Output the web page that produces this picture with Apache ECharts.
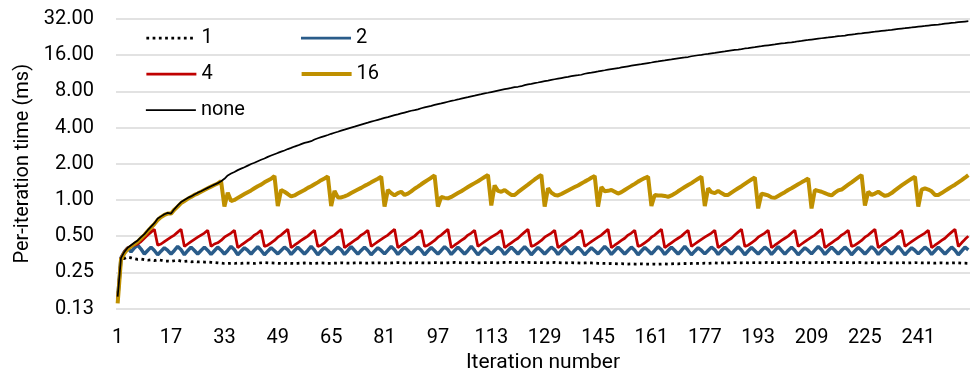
<!DOCTYPE html>
<html>
<head>
<meta charset="utf-8">
<script src="https://cdn.jsdelivr.net/npm/echarts@6/dist/echarts.min.js"></script>
<style>html,body{margin:0;padding:0;background:#fff}#c{width:973px;height:379px}</style>
</head>
<body>
<div id="c"></div>
<script>
// Iteration numbers (category labels 1..256)
const iterations = Array.from({length: 256}, (_, i) => String(i + 1));
const yTicks = [0.125, 0.25, 0.5, 1, 2, 4, 8, 16, 32];

const seriesNames = ['1', '2', '4', '16', 'none'];

const s1 = [
0.15,0.33,0.325,0.335,0.33,0.325,0.32,0.322,0.318,0.315,0.317,0.313,0.318,0.315,0.31,0.31,
0.308,0.312,0.315,0.31,0.308,0.31,0.306,0.308,0.305,0.306,0.304,0.305,0.303,0.302,0.30,0.298,
0.296,0.296,0.297,0.296,0.298,0.297,0.299,0.298,0.297,0.296,0.298,0.3,0.301,0.3,0.299,0.298,
0.297,0.296,0.297,0.298,0.297,0.296,0.297,0.298,0.299,0.298,0.297,0.297,0.298,0.299,0.298,0.297,
0.297,0.298,0.299,0.3,0.299,0.298,0.298,0.299,0.3,0.299,0.298,0.298,0.299,0.3,0.3,0.299,
0.298,0.298,0.299,0.3,0.301,0.3,0.299,0.298,0.299,0.3,0.301,0.3,0.299,0.299,0.3,0.301,
0.3,0.299,0.299,0.3,0.301,0.302,0.301,0.3,0.3,0.301,0.302,0.301,0.3,0.3,0.301,0.302,
0.301,0.3,0.3,0.301,0.302,0.303,0.302,0.301,0.301,0.302,0.303,0.302,0.301,0.301,0.302,0.301,
0.3,0.3,0.301,0.302,0.301,0.3,0.299,0.3,0.301,0.3,0.299,0.298,0.299,0.3,0.299,0.298,
0.297,0.297,0.296,0.295,0.296,0.295,0.294,0.295,0.294,0.293,0.294,0.293,0.293,0.294,0.293,0.293,
0.292,0.293,0.292,0.293,0.294,0.293,0.294,0.295,0.294,0.295,0.296,0.295,0.296,0.297,0.296,0.297,
0.298,0.297,0.298,0.299,0.298,0.299,0.3,0.299,0.3,0.301,0.3,0.3,0.301,0.3,0.3,0.301,
0.301,0.3,0.301,0.302,0.301,0.3,0.301,0.302,0.301,0.301,0.302,0.301,0.3,0.301,0.302,0.301,
0.3,0.301,0.302,0.301,0.301,0.302,0.303,0.302,0.301,0.301,0.302,0.301,0.3,0.301,0.302,0.301,
0.3,0.3,0.301,0.3,0.299,0.3,0.301,0.3,0.299,0.299,0.3,0.301,0.3,0.299,0.3,0.301,
0.3,0.299,0.3,0.3,0.299,0.298,0.299,0.3,0.299,0.298,0.299,0.3,0.299,0.298,0.298,0.297
];

const s2 = [
0.15,0.33,0.37,0.40,0.37,0.40,0.42,0.39,
0.355,0.38,0.405,0.38, 0.35,0.375,0.40,0.38, 0.355,0.38,0.41,0.385, 0.35,0.378,0.405,0.38,
0.355,0.38,0.405,0.38, 0.352,0.378,0.405,0.382, 0.355,0.38,0.41,0.385, 0.35,0.375,0.40,0.38,
0.355,0.382,0.408,0.38, 0.35,0.375,0.40,0.378, 0.356,0.38,0.405,0.385, 0.352,0.378,0.405,0.38,
0.355,0.38,0.41,0.382, 0.35,0.376,0.402,0.38, 0.355,0.38,0.405,0.385, 0.352,0.378,0.408,0.38,
0.354,0.38,0.405,0.38, 0.35,0.375,0.40,0.38, 0.356,0.382,0.41,0.385, 0.352,0.378,0.405,0.38,
0.355,0.38,0.405,0.382, 0.35,0.376,0.402,0.378, 0.355,0.38,0.408,0.385, 0.352,0.378,0.405,0.38,
0.355,0.38,0.41,0.38, 0.35,0.375,0.40,0.38, 0.356,0.38,0.405,0.385, 0.352,0.378,0.405,0.38,
0.355,0.382,0.408,0.382, 0.35,0.376,0.402,0.38, 0.355,0.38,0.405,0.385, 0.352,0.378,0.408,0.38,
0.354,0.38,0.405,0.38, 0.35,0.375,0.40,0.378, 0.356,0.382,0.41,0.385, 0.352,0.378,0.405,0.38,
0.355,0.38,0.405,0.382, 0.35,0.376,0.402,0.38, 0.355,0.38,0.408,0.385, 0.352,0.378,0.405,0.38,
0.355,0.38,0.41,0.38, 0.35,0.375,0.40,0.38, 0.356,0.38,0.405,0.385, 0.352,0.378,0.405,0.38,
0.355,0.382,0.408,0.382, 0.35,0.376,0.402,0.378, 0.355,0.38,0.405,0.385, 0.352,0.378,0.408,0.38,
0.354,0.38,0.405,0.38, 0.35,0.375,0.40,0.38, 0.356,0.382,0.41,0.385, 0.352,0.378,0.405,0.38,
0.355,0.38,0.405,0.382, 0.35,0.376,0.402,0.38, 0.355,0.38,0.408,0.385, 0.352,0.378,0.405,0.38,
0.355,0.38,0.41,0.38, 0.35,0.375,0.40,0.38, 0.356,0.38,0.405,0.385, 0.352,0.378,0.405,0.38,
0.355,0.38,0.405,0.382, 0.35,0.376,0.405,0.385
];

const s4 = [
0.15,0.33,0.37,0.40,0.41,0.42,0.43,0.45,0.48,0.51,0.54,0.57,
0.42,0.43,0.45,0.47,0.49,0.51,0.54,0.57,
0.41,0.43,0.45,0.47,0.49,0.51,0.53,0.56,
0.41,0.43,0.44,0.46,0.49,0.51,0.53,0.56,
0.40,0.42,0.44,0.46,0.48,0.51,0.53,0.56,
0.41,0.42,0.44,0.46,0.49,0.51,0.54,0.57,
0.40,0.42,0.44,0.46,0.48,0.50,0.53,0.56,
0.41,0.42,0.44,0.47,0.49,0.51,0.54,0.57,
0.40,0.42,0.44,0.46,0.48,0.51,0.53,0.56,
0.41,0.43,0.45,0.47,0.49,0.51,0.54,0.57,
0.40,0.42,0.44,0.46,0.48,0.50,0.53,0.56,
0.41,0.42,0.44,0.46,0.49,0.51,0.54,0.57,
0.40,0.42,0.44,0.46,0.48,0.51,0.53,0.56,
0.41,0.43,0.45,0.47,0.49,0.51,0.53,0.56,
0.40,0.42,0.44,0.46,0.48,0.51,0.54,0.57,
0.41,0.42,0.44,0.46,0.49,0.51,0.53,0.56,
0.40,0.42,0.44,0.46,0.48,0.50,0.53,0.56,
0.41,0.43,0.45,0.47,0.49,0.51,0.54,0.57,
0.40,0.42,0.44,0.46,0.48,0.51,0.53,0.56,
0.41,0.42,0.44,0.46,0.49,0.51,0.54,0.57,
0.40,0.42,0.44,0.46,0.48,0.50,0.53,0.56,
0.41,0.43,0.45,0.47,0.49,0.51,0.53,0.56,
0.40,0.42,0.44,0.46,0.48,0.51,0.54,0.57,
0.41,0.42,0.44,0.46,0.49,0.51,0.53,0.56,
0.40,0.42,0.44,0.46,0.48,0.50,0.53,0.56,
0.41,0.43,0.45,0.47,0.49,0.51,0.54,0.57,
0.40,0.42,0.44,0.46,0.48,0.51,0.53,0.56,
0.41,0.42,0.44,0.46,0.49,0.51,0.54,0.57,
0.40,0.42,0.44,0.46,0.48,0.50,0.53,0.56,
0.41,0.43,0.45,0.47,0.49,0.51,0.53,0.56,
0.40,0.42,0.44,0.46,0.48,0.51,0.54,0.57,
0.41,0.44,0.47,0.50
];

const s16 = [
0.138,0.32,0.36,0.39,0.41,0.43,0.45,0.48,0.51,0.55,0.59,0.63,0.68,0.72,0.75,0.77,
0.77,0.83,0.88,0.94,0.98,1.02,1.06,1.10,1.13,1.17,1.21,1.25,1.29,1.33,1.37,1.43,
0.88,1.15,0.98,1.00,1.04,1.08,1.12,1.16,1.20,1.25,1.30,1.34,1.40,1.45,1.50,1.58,
0.89,1.21,1.17,1.12,1.07,1.09,1.13,1.17,1.21,1.26,1.30,1.35,1.40,1.46,1.51,1.57,
0.89,1.19,1.05,1.05,1.07,1.10,1.14,1.18,1.22,1.26,1.31,1.35,1.40,1.45,1.50,1.56,
0.88,1.21,1.14,1.09,1.14,1.17,1.10,1.13,1.18,1.24,1.29,1.35,1.41,1.47,1.53,1.60,
0.88,1.06,1.04,1.03,1.06,1.10,1.14,1.18,1.23,1.28,1.33,1.38,1.43,1.49,1.55,1.61,
0.90,1.32,1.19,1.17,1.21,1.15,1.10,1.10,1.16,1.22,1.28,1.34,1.41,1.48,1.55,1.61,
0.88,1.25,1.15,1.10,1.09,1.12,1.16,1.20,1.24,1.28,1.32,1.37,1.42,1.47,1.53,1.58,
0.88,1.28,1.18,1.19,1.21,1.17,1.13,1.16,1.21,1.26,1.31,1.36,1.42,1.47,1.52,1.56,
0.89,1.10,1.09,1.09,1.08,1.06,1.09,1.13,1.18,1.23,1.28,1.33,1.38,1.44,1.50,1.56,
0.89,1.25,1.16,1.14,1.19,1.14,1.10,1.10,1.15,1.20,1.25,1.30,1.36,1.42,1.48,1.54,
0.85,1.13,1.11,1.09,1.05,1.04,1.08,1.12,1.16,1.21,1.25,1.30,1.35,1.40,1.45,1.51,
0.85,1.21,1.19,1.17,1.14,1.11,1.09,1.15,1.20,1.22,1.28,1.34,1.40,1.47,1.54,1.61,
0.90,1.17,1.10,1.13,1.17,1.12,1.08,1.10,1.14,1.20,1.26,1.32,1.38,1.44,1.50,1.56,
0.88,1.22,1.25,1.22,1.18,1.10,1.10,1.14,1.19,1.24,1.29,1.34,1.40,1.46,1.53,1.61
];

const sNone = [
0.157,0.33,0.37,0.40,0.42,0.44,0.46,0.49,0.52,0.56,0.60,0.64,0.70,0.73,0.76,0.78,
0.77,0.84,0.90,0.96,1.00,1.04,1.07,1.11,1.15,1.18,1.22,1.26,1.30,1.34,1.38,1.43,
1.50,1.60,1.66,1.71,1.77,1.82,1.87,1.93,1.99,2.04,2.10,2.16,2.21,2.28,2.34,2.40,
2.46,2.52,2.58,2.65,2.71,2.78,2.84,2.91,2.98,3.03,3.08,3.18,3.26,3.33,3.40,3.47,
3.55,3.62,3.69,3.77,3.84,3.92,4.00,4.07,4.15,4.23,4.31,4.39,4.48,4.56,4.64,4.72,
4.81,4.89,4.98,5.07,5.15,5.24,5.33,5.42,5.52,5.58,5.66,5.79,5.89,5.98,6.07,6.17,
6.27,6.36,6.46,6.56,6.66,6.75,6.85,6.96,7.06,7.16,7.27,7.37,7.48,7.58,7.69,7.79,
7.90,8.01,8.12,8.23,8.34,8.45,8.56,8.68,8.74,8.83,9.02,9.14,9.25,9.37,9.48,9.60,
9.72,9.84,9.97,10.09,10.21,10.33,10.45,10.57,10.70,10.83,10.90,11.00,11.21,11.34,11.46,11.59,
11.72,11.86,11.99,12.13,12.26,12.36,12.46,12.66,12.80,12.94,13.08,13.22,13.36,13.49,13.63,13.77,
13.91,14.06,14.20,14.35,14.49,14.64,14.78,14.93,15.08,15.23,15.33,15.45,15.68,15.83,15.98,16.13,
16.29,16.44,16.60,16.75,16.91,17.07,17.22,17.38,17.54,17.70,17.80,17.95,18.19,18.35,18.52,18.68,
18.85,19.01,19.18,19.35,19.52,19.68,19.85,20.02,20.19,20.37,20.48,20.62,20.89,21.06,21.24,21.41,
21.59,21.77,21.95,22.13,22.31,22.48,22.66,22.84,23.03,23.12,23.30,23.58,23.77,23.95,24.14,24.32,
24.51,24.70,24.89,25.08,25.28,25.47,25.66,25.80,25.96,26.24,26.44,26.64,26.83,27.03,27.22,27.42,
27.62,27.82,28.02,28.23,28.43,28.63,28.76,28.95,29.25,29.46,29.67,29.87,30.08,30.29,30.50,30.71
];

const FONT = 'Roboto, "Noto Sans", sans-serif';
const TXT = '#000';

const COLORS = {'1': '#000', '2': '#2A5C8A', '4': '#C00000', '16': '#BF9000', 'none': '#000'};
const WIDTHS = {'1': 2.75, '2': 3.25, '4': 2.75, '16': 4, 'none': 1.75};
const DOT = [2.75, 3.5];

const chart = echarts.init(document.getElementById('c'), null, {renderer: 'canvas'});

function legendItem(n) {
  return {name: n, lineStyle: {width: n === 'none' ? 1.75 : (n === '16' ? 4 : 2.75),
    type: n === '1' ? DOT : 'solid', color: COLORS[n], cap: 'butt'}};
}

const legendBase = {
  left: 140, itemGap: 87, itemWidth: 50, itemHeight: 20,
  itemStyle: {opacity: 0},
  textStyle: {fontSize: 20, fontFamily: FONT, color: TXT}
};

chart.setOption({
  animation: false,
  backgroundColor: '#fff',
  textStyle: {fontFamily: FONT},
  grid: {left: 116, right: 3, top: 19, bottom: 70.5, containLabel: false},
  legend: [
    Object.assign({}, legendBase, {data: [legendItem(seriesNames[0]), legendItem(seriesNames[1])], top: 23}),
    Object.assign({}, legendBase, {data: [legendItem(seriesNames[2]), legendItem(seriesNames[3])], top: 59}),
    Object.assign({}, legendBase, {data: [legendItem(seriesNames[4])], top: 95})
  ],
  xAxis: {
    type: 'category',
    data: iterations,
    boundaryGap: true,
    axisLine: {show: false},
    axisTick: {show: false},
    splitLine: {show: false},
    axisLabel: {interval: 15, fontSize: 20, fontFamily: FONT, color: TXT, margin: 19},
    name: 'Iteration number',
    nameLocation: 'middle',
    nameGap: 44,
    nameTextStyle: {fontSize: 21, fontFamily: FONT, color: TXT}
  },
  yAxis: {
    type: 'log',
    logBase: 2,
    min: yTicks[0],
    max: yTicks[yTicks.length - 1],
    splitNumber: yTicks.length - 1,
    axisLine: {show: false},
    axisTick: {show: false},
    splitLine: {show: true, lineStyle: {color: '#d9d9d9', width: 1.5}},
    axisLabel: {fontSize: 20, fontFamily: FONT, color: TXT, margin: 22,
      formatter: v => Number(v).toFixed(2)},
    name: 'Per-iteration time (ms)',
    nameLocation: 'middle',
    nameGap: 80,
    nameTextStyle: {fontSize: 20, fontFamily: FONT, color: TXT}
  },
  series: [
    {name: seriesNames[0], type: 'line', data: s1, symbol: 'none', showSymbol: false,
      lineStyle: {color: COLORS['1'], width: WIDTHS['1'], type: DOT, cap: 'butt'}, itemStyle: {color: COLORS['1']}},
    {name: seriesNames[1], type: 'line', data: s2, symbol: 'none', showSymbol: false,
      lineStyle: {color: COLORS['2'], width: 3.5}, itemStyle: {color: COLORS['2']}},
    {name: seriesNames[2], type: 'line', data: s4, symbol: 'none', showSymbol: false,
      lineStyle: {color: COLORS['4'], width: WIDTHS['4']}, itemStyle: {color: COLORS['4']}},
    {name: seriesNames[3], type: 'line', data: s16, symbol: 'none', showSymbol: false,
      lineStyle: {color: COLORS['16'], width: WIDTHS['16']}, itemStyle: {color: COLORS['16']}},
    {name: seriesNames[4], type: 'line', data: sNone, symbol: 'none', showSymbol: false,
      lineStyle: {color: COLORS['none'], width: WIDTHS['none']}, itemStyle: {color: COLORS['none']}}
  ]
});
</script>
</body>
</html>
